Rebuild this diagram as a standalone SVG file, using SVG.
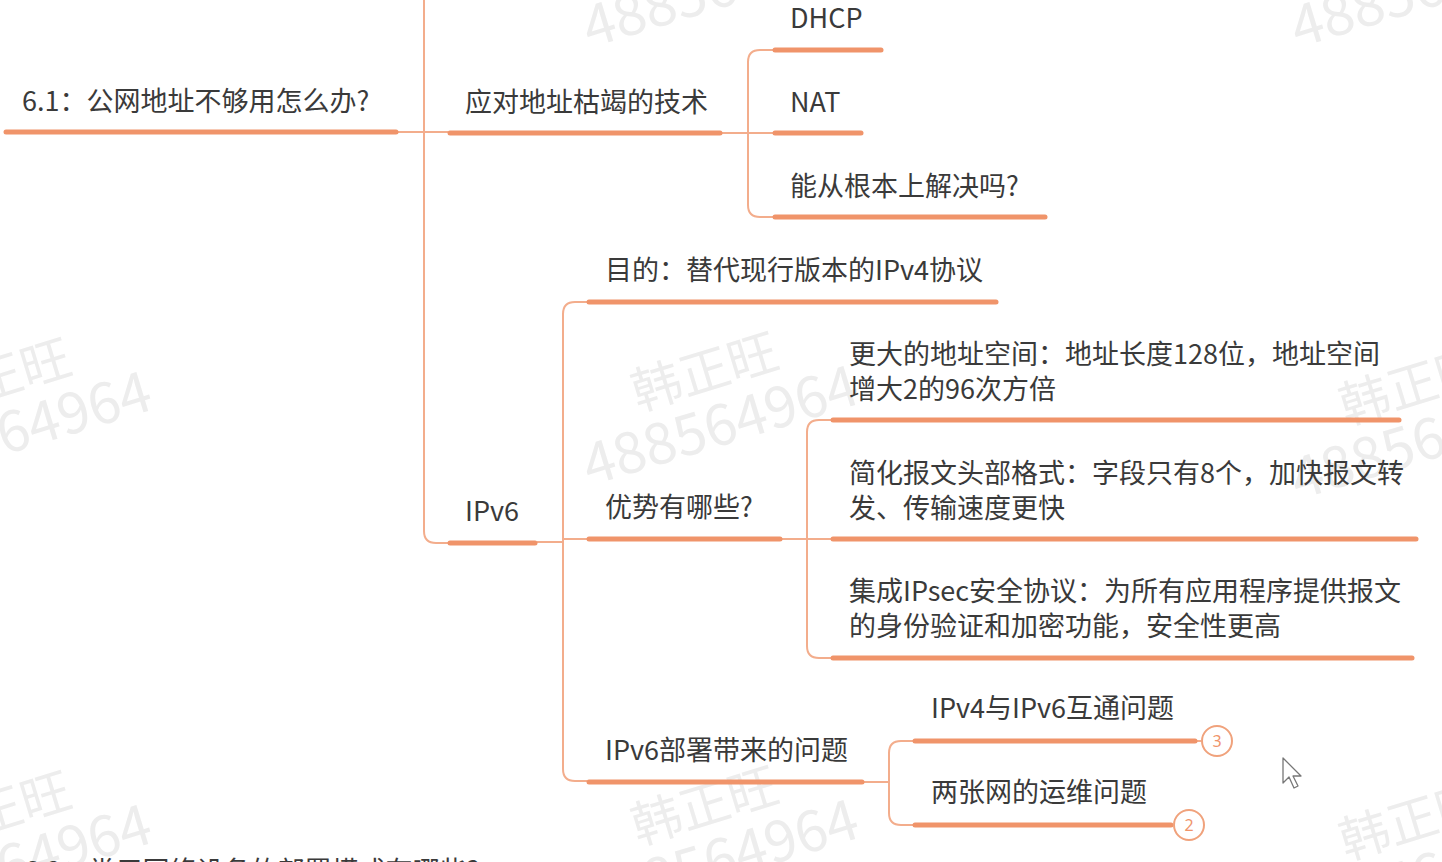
<svg xmlns="http://www.w3.org/2000/svg" width="1442" height="862" viewBox="0 0 1442 862">
<defs>
<style>
.t{font-family:"Noto Sans CJK SC","Noto Sans",sans-serif;font-size:27px;fill:#3a3a3a}
.ul{stroke:#f0946a;stroke-width:5;stroke-linecap:round;fill:none}
.cn{stroke:#f3ad8c;stroke-width:2;fill:none}
.wm{font-family:"Noto Sans CJK SC","Noto Sans",sans-serif;fill:#ededed}
.badge{fill:#fff;stroke:#f0a27c;stroke-width:2}
.bt{font-family:"Noto Sans","Noto Sans CJK SC",sans-serif;font-size:16px;fill:#f0946a;text-anchor:middle}
</style>
<g id="wmark">
<text class="wm" x="68" y="-58" font-size="50">韩正旺</text>
<text class="wm" x="0" y="0" font-size="57">488564964</text>
</g>
</defs>
<rect width="1442" height="862" fill="#fff"/>
<g id="watermarks">
<use href="#wmark" transform="translate(590,48) rotate(-17)"/>
<use href="#wmark" transform="translate(1298,48) rotate(-17)"/>
<use href="#wmark" transform="translate(-117,492) rotate(-17)"/>
<use href="#wmark" transform="translate(590,486) rotate(-17)"/>
<use href="#wmark" transform="translate(1298,500) rotate(-17)"/>
<use href="#wmark" transform="translate(-117,925) rotate(-17)"/>
<use href="#wmark" transform="translate(590,920) rotate(-17)"/>
<use href="#wmark" transform="translate(1298,935) rotate(-17)"/>
</g>
<g id="connectors">
<path class="cn" d="M398,132 H448"/>
<path class="cn" d="M424,0 V531 Q424,543 436,543 H448"/>
<path class="cn" d="M722,133 H773"/>
<path class="cn" d="M773,50 H760 Q748,50 748,62 V205 Q748,217 760,217 H773"/>
<path class="cn" d="M537,542 H563"/>
<path class="cn" d="M587,302 H575 Q563,302 563,314 V769 Q563,781 575,781 H587"/>
<path class="cn" d="M563,539 H587"/>
<path class="cn" d="M782,539 H831"/>
<path class="cn" d="M831,420 H819 Q807,420 807,432 V646 Q807,658 819,658 H831"/>
<path class="cn" d="M863,782 H889"/>
<path class="cn" d="M913,741 H901 Q889,741 889,753 V813 Q889,825 901,825 H913"/>
<path class="cn" d="M1196,741 H1201"/>
<path class="cn" d="M1172,825 H1173"/>
</g>
<g id="root">
<text class="t" x="22" y="111">6.1：公网地址不够用怎么办?</text>
<path class="ul" d="M6,132 H396"/>
</g>
<g id="tech">
<text class="t" x="465" y="112">应对地址枯竭的技术</text>
<path class="ul" d="M450,133 H720"/>
</g>
<g id="dhcp">
<text class="t" x="790" y="28">DHCP</text>
<path class="ul" d="M775,50 H881"/>
</g>
<g id="nat">
<text class="t" x="790" y="112">NAT</text>
<path class="ul" d="M775,133 H861"/>
</g>
<g id="solve">
<text class="t" x="790" y="196">能从根本上解决吗?</text>
<path class="ul" d="M775,217 H1045"/>
</g>
<g id="ipv6">
<text class="t" x="465" y="521">IPv6</text>
<path class="ul" d="M450,543 H535"/>
</g>
<g id="purpose">
<text class="t" x="605" y="280">目的：替代现行版本的IPv4协议</text>
<path class="ul" d="M589,302 H996"/>
</g>
<g id="adv">
<text class="t" x="605" y="517">优势有哪些?</text>
<path class="ul" d="M589,539 H780"/>
</g>
<g id="adv1">
<text class="t"><tspan x="849" y="364">更大的地址空间：地址长度128位，地址空间</tspan><tspan x="849" y="399">增大2的96次方倍</tspan></text>
<path class="ul" d="M833,420 H1399"/>
</g>
<g id="adv2">
<text class="t"><tspan x="849" y="483">简化报文头部格式：字段只有8个，加快报文转</tspan><tspan x="849" y="518">发、传输速度更快</tspan></text>
<path class="ul" d="M833,539 H1416"/>
</g>
<g id="adv3">
<text class="t"><tspan x="849" y="601">集成IPsec安全协议：为所有应用程序提供报文</tspan><tspan x="849" y="636">的身份验证和加密功能，安全性更高</tspan></text>
<path class="ul" d="M833,658 H1412"/>
</g>
<g id="issues">
<text class="t" x="605" y="760">IPv6部署带来的问题</text>
<path class="ul" d="M589,782 H862"/>
</g>
<g id="interop">
<text class="t" x="931" y="718">IPv4与IPv6互通问题</text>
<path class="ul" d="M915,741 H1195"/>
<circle class="badge" cx="1217" cy="741" r="15"/>
<text class="bt" x="1217" y="747">3</text>
</g>
<g id="ops">
<text class="t" x="931" y="802">两张网的运维问题</text>
<path class="ul" d="M915,825 H1171"/>
<circle class="badge" cx="1189" cy="825" r="15"/>
<text class="bt" x="1189" y="831">2</text>
</g>
<g id="next">
<text class="t" x="24" y="881">6.2：常用网络设备的部署模式有哪些?</text>
</g>
<g id="cursor">
<path d="M1283,758 L1283,783 L1289,777 L1294,788 L1298,786 L1293,776 L1301,776 Z" fill="#fff" stroke="#777" stroke-width="1.3" stroke-linejoin="round"/>
</g>
</svg>
